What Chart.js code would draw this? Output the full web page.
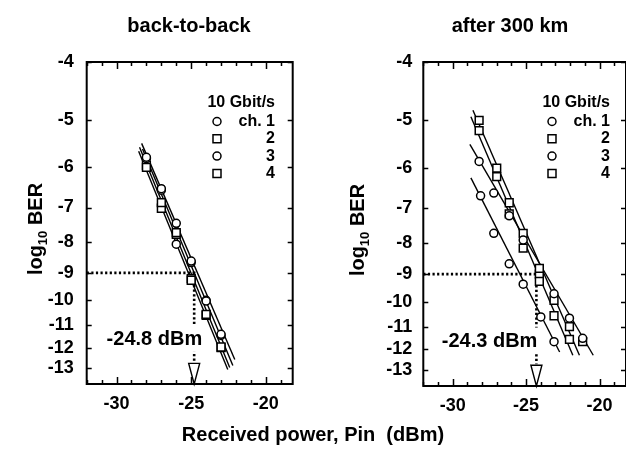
<!DOCTYPE html>
<html>
<head>
<meta charset="utf-8">
<script src="https://cdn.jsdelivr.net/npm/chart.js@4.4.1/dist/chart.umd.min.js"></script>
<style>
html, body { margin: 0; padding: 0; background: #fff; overflow: hidden; }
#wrap { position: relative; width: 626px; height: 468px; overflow: hidden; background: #fff; }
#wrap canvas { position: absolute; top: 0; }
#c1 { left: 0; }
#c2 { left: 313px; }
#xtitle { position: absolute; left: 0; top: 423px; width: 626px; text-align: center;
  font: bold 20px "Liberation Sans", Arial, sans-serif; color: #000; white-space: pre; }
</style>
</head>
<body>
<div id="wrap">
  <canvas id="c1" width="313" height="468"></canvas>
  <canvas id="c2" width="320" height="468"></canvas>
  <div id="xtitle">Received power, Pin  (dBm)</div>
</div>
<script>
// ---- data ----
const panelTitles = ['back-to-back', 'after 300 km'];
const xTicks = [-30, -25, -20];
const yTicks = [-4, -5, -6, -7, -8, -9, -10, -11, -12, -13];
const rateLabel = '10 Gbit/s';
const channelLabels = ['ch. 1', '2', '3', '4'];
const channelMarkers = ['circle', 'rect', 'circle', 'rect'];
const berThreshold = -9;
const sensitivity = [-24.8, -24.3];

// back-to-back measured points (x: dBm, y: log10 BER)
const b2bX = [-28, -27, -26, -25, -24, -23];
const b2bCh1 = [-5.77, -6.51, -7.44, -8.6, -10.03, -11.4];
const b2bCh2 = [-6.0, -6.87, -7.71, -9.26, -10.56, -11.97];
const b2bCh3 = [-5.8, -6.55, -8.06, -8.65, -10.0, -11.45];
const b2bCh4 = [-5.95, -7.02, -7.76, -9.2, -10.6, -12.0];
// back-to-back fitted lines: [x0, x1], [y0, y1]
const b2bFitX = [[-28.32, -22.08], [-28.46, -22.42], [-28.26, -22.21], [-28.52, -22.55]];
const b2bFitY = [[-5.47, -12.56], [-5.55, -12.95], [-5.59, -12.85], [-5.64, -13.05]];

// after 300 km measured points
const kmCh1X = [-28.2, -27.2, -26.15, -25.2, -23.1, -22.05, -21.15];
const kmCh1 = [-5.85, -6.6, -7.2, -7.9, -9.7, -10.65, -11.5];
const kmCh2X = [-28.2, -27.0, -26.15, -25.2, -24.1, -23.1, -22.05, -21.15];
const kmCh2 = [-5.0, -6.0, -6.85, -7.7, -8.8, -9.95, -11.0, -11.65];
const kmCh3X = [-28.1, -27.2, -26.15, -25.2, -24.0, -23.1];
const kmCh3 = [-6.67, -7.7, -8.65, -9.35, -10.6, -11.65];
const kmCh4X = [-28.2, -27.0, -26.15, -25.2, -24.1, -24.1, -23.1, -22.05];
const kmCh4 = [-5.2, -6.2, -7.15, -8.15, -9.0, -9.25, -10.55, -11.55];
const kmFitX = [[-28.83, -20.43], [-28.62, -21.37], [-28.76, -22.72], [-28.76, -21.82]];
const kmFitY = [[-5.48, -12.27], [-4.81, -12.27], [-6.23, -12.12], [-4.93, -12.27]];

const arrowTop = -12.7;
const labelY = -11.6;
const xMin = -32, xMax = -18.2;
const yMin = -13.8, yMax = -4;

const FONT = '"Liberation Sans", Arial, Helvetica, sans-serif';

// log10 BER axis drawn on a -log(-log BER) scale
const tf = v => -Math.log10(-v);
class BerScale extends Chart.Scale {
  determineDataLimits() {
    this.min = this.options.min;
    this.max = this.options.max;
  }
  buildTicks() {
    return yTicks.map(v => ({ value: v }));
  }
  getLabelForValue(v) { return String(v); }
  configure() {
    super.configure();
    this._lo = tf(this.min);
    this._hi = tf(this.max);
  }
  getPixelForValue(v) {
    return this.getPixelForDecimal((tf(v) - this._lo) / (this._hi - this._lo));
  }
  getValueForPixel(p) {
    const d = this.getDecimalForPixel(p);
    return -Math.pow(10, -(this._lo + d * (this._hi - this._lo)));
  }
}
BerScale.id = 'ber';
BerScale.defaults = {};
Chart.register(BerScale);

function pts(xs, ys) { return xs.map((x, i) => ({ x: x, y: ys[i] })); }

function pointSet(label, data, marker) {
  return {
    label: label, data: data, showLine: false, order: 0,
    pointStyle: marker, pointRadius: marker === 'rect' ? 5.5 : 4,
    pointBackgroundColor: '#fff', pointBorderColor: '#000', pointBorderWidth: 1.5
  };
}
function lineSet(xs, ys) {
  return {
    data: pts(xs, ys), showLine: true, order: 1, pointRadius: 0,
    borderColor: '#000', borderWidth: 1.4, fill: false
  };
}
function guideSet(sens) {
  return {
    data: [{ x: xMin, y: berThreshold }, { x: sens, y: berThreshold }, { x: sens, y: arrowTop }],
    showLine: true, order: 2, pointRadius: 0, borderColor: '#000',
    borderWidth: 2.6, borderDash: [2.2, 2.4], fill: false
  };
}

const decor = {
  id: 'decor',
  beforeDraw(chart) {
    const c = chart.ctx;
    c.save();
    c.fillStyle = '#fff';
    c.fillRect(0, 0, chart.width, chart.height);
    c.restore();
  },
  afterDatasetsDraw(chart, args, o) {
    const c = chart.ctx, xs = chart.scales.x, ys = chart.scales.y;
    const px = xs.getPixelForValue(sensitivity[o.panel]);
    const py = ys.getPixelForValue(labelY);
    const txt = sensitivity[o.panel] + ' dBm';
    c.save();
    c.font = 'bold 20px ' + FONT;
    const w = c.measureText(txt).width;
    const right = px + o.labelShift;
    c.fillStyle = '#fff';
    c.fillRect(right - w - 2, py - 13, w + 4, 26);
    c.fillStyle = '#000';
    c.textAlign = 'right';
    c.textBaseline = 'middle';
    c.fillText(txt, right, py + 1);
    // hollow arrow down to the axis
    const top = ys.getPixelForValue(arrowTop);
    const bot = chart.chartArea.bottom;
    c.beginPath();
    c.moveTo(px - 5.5, top + 1);
    c.lineTo(px + 5.5, top + 1);
    c.lineTo(px, bot);
    c.closePath();
    c.fillStyle = '#fff';
    c.fill();
    c.lineWidth = 1.4;
    c.strokeStyle = '#000';
    c.stroke();
    c.restore();
  },
  afterDraw(chart, args, o) {
    const c = chart.ctx, a = chart.chartArea, xs = chart.scales.x, ys = chart.scales.y;
    c.save();
    c.strokeStyle = '#000';
    // ticks
    c.lineWidth = 1.5;
    c.beginPath();
    for (let v = Math.ceil(xMin); v <= xMax; v++) {
      const p = Math.round(xs.getPixelForValue(v)) + 0.5;
      const len = v % 5 === 0 ? 7 : 4;
      c.moveTo(p, a.bottom); c.lineTo(p, a.bottom - len);
      c.moveTo(p, a.top); c.lineTo(p, a.top + len);
    }
    yTicks.forEach(v => {
      const p = Math.round(ys.getPixelForValue(v)) + 0.5;
      c.moveTo(a.left, p); c.lineTo(a.left + 5, p);
      c.moveTo(a.right, p); c.lineTo(a.right - 5, p);
    });
    c.stroke();
    // frame
    c.lineWidth = 2;
    c.strokeRect(a.left, a.top, a.right - a.left, a.bottom - a.top);

    c.fillStyle = '#000';
    // panel title
    c.font = 'bold 20px ' + FONT;
    c.textAlign = 'center';
    c.textBaseline = 'middle';
    c.fillText(panelTitles[o.panel], o.titleX, 26);
    // y title with subscript
    c.translate(o.yTitleX, (a.top + a.bottom) / 2 + 6);
    c.rotate(-Math.PI / 2);
    c.textAlign = 'left';
    c.textBaseline = 'alphabetic';
    const f1 = 'bold 20px ' + FONT, f2 = 'bold 13px ' + FONT;
    c.font = f1; const w1 = c.measureText('log').width;
    c.font = f2; const w2 = c.measureText('10').width;
    c.font = f1; const w3 = c.measureText(' BER').width;
    let x0 = -(w1 + w2 + w3) / 2;
    c.font = f1; c.fillText('log', x0, 7);
    c.font = f2; c.fillText('10', x0 + w1, 12);
    c.font = f1; c.fillText(' BER', x0 + w1 + w2, 7);
    c.setTransform(1, 0, 0, 1, 0, 0);
    // legend
    const tr = a.right - o.legendRight;
    c.font = 'bold 16px ' + FONT;
    c.textAlign = 'right';
    c.textBaseline = 'middle';
    c.fillText(rateLabel, tr, 103);
    channelLabels.forEach((lab, i) => {
      const y = 121.5 + i * 17.3;
      c.fillText(lab, tr, y);
      const mx = tr - 58;
      c.lineWidth = 1.5;
      c.fillStyle = '#fff';
      c.beginPath();
      if (channelMarkers[i] === 'circle') c.arc(mx, y, 4, 0, Math.PI * 2);
      else c.rect(mx - 4, y - 4, 8, 8);
      c.fill(); c.stroke();
      c.fillStyle = '#000';
    });
    c.restore();
  }
};

function makePanel(id, panel, sets, opt) {
  return new Chart(document.getElementById(id), {
    type: 'scatter',
    data: { datasets: sets },
    options: {
      responsive: false,
      animation: false,
      events: [],
      layout: { padding: { left: 0, top: 62, right: opt.padRight, bottom: opt.padBottom } },
      plugins: {
        legend: { display: false },
        tooltip: { enabled: false },
        decor: { panel: panel, titleX: opt.titleX, yTitleX: opt.yTitleX,
                 legendRight: opt.legendRight, labelShift: opt.labelShift }
      },
      scales: {
        x: {
          type: 'linear', min: xMin, max: xMax,
          afterBuildTicks: ax => { ax.ticks = xTicks.map(v => ({ value: v })); },
          afterFit: s => { s.height = 40; },
          grid: { display: false, drawTicks: false }, border: { display: false },
          ticks: { autoSkip: false, maxRotation: 0, padding: 9, color: '#000',
                   font: { family: FONT, size: 18, weight: 'bold' } }
        },
        y: {
          type: 'ber', min: yMin, max: yMax,
          afterFit: s => { s.width = opt.yWidth; },
          grid: { display: false, drawTicks: false }, border: { display: false },
          ticks: { autoSkip: false, padding: opt.yPad, color: '#000',
                   font: { family: FONT, size: 18, weight: 'bold' } }
        }
      }
    },
    plugins: [decor]
  });
}

const b2bSets = [
  pointSet(channelLabels[0], pts(b2bX, b2bCh1), channelMarkers[0]),
  pointSet(channelLabels[1], pts(b2bX, b2bCh2), channelMarkers[1]),
  pointSet(channelLabels[2], pts(b2bX, b2bCh3), channelMarkers[2]),
  pointSet(channelLabels[3], pts(b2bX, b2bCh4), channelMarkers[3])
].concat(b2bFitX.map((xs, i) => lineSet(xs, b2bFitY[i]))).concat([guideSet(sensitivity[0])]);

const kmSets = [
  pointSet(channelLabels[0], pts(kmCh1X, kmCh1), channelMarkers[0]),
  pointSet(channelLabels[1], pts(kmCh2X, kmCh2), channelMarkers[1]),
  pointSet(channelLabels[2], pts(kmCh3X, kmCh3), channelMarkers[2]),
  pointSet(channelLabels[3], pts(kmCh4X, kmCh4), channelMarkers[3])
].concat(kmFitX.map((xs, i) => lineSet(xs, kmFitY[i]))).concat([guideSet(sensitivity[1])]);

makePanel('c1', 0, b2bSets, { padRight: 20.3, padBottom: 44, yWidth: 86.7, yPad: 13,
  titleX: 189, yTitleX: 35, legendRight: 17.7, labelShift: 8 });
makePanel('c2', 1, kmSets, { padRight: 6, padBottom: 42, yWidth: 110.3, yPad: 11,
  titleX: 197, yTitleX: 44, legendRight: 16, labelShift: 1 });
</script>
</body>
</html>
